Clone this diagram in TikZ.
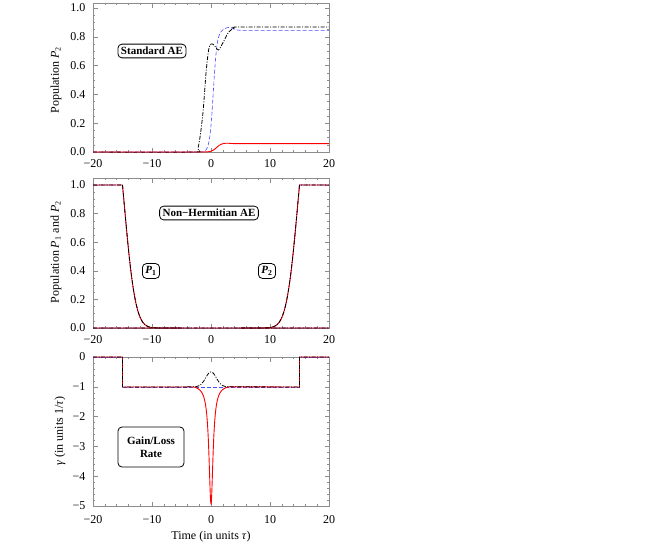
\documentclass[tikz,border=0pt]{standalone}
\usepackage{fontspec}
\setmainfont{Liberation Serif}
\begin{document}
\begin{tikzpicture}[x=1pt,y=-1pt,
  frame/.style={draw=black!45,line width=0.6pt},
  tick/.style={draw=black!45,line width=0.5pt},
  lab/.style={font=\fontsize{12}{12}\selectfont},
  tag/.style={draw,rounded corners=4pt,line width=0.8pt,font=\bfseries\fontsize{11}{13}\selectfont,align=center,inner sep=3pt},
  redc/.style={red,line width=0.9pt},
  bluec/.style={blue!70,dashed,dash pattern=on 4pt off 2pt,line width=0.6pt},
  blackc/.style={black,dash pattern=on 4pt off 1.5pt on 1pt off 1.5pt,line width=0.8pt}]
\useasboundingbox (0,0) rectangle (664,547);
\def\X#1{211+5.9*(#1)}
% ---------- frames and x ticks
\foreach \top/\bot/\ly in {3/152/164, 178/328/340, 357/506/520}{
  \draw[frame] (93,\top) rectangle (329,\bot);
  \foreach \t in {-20,-18,...,20}{
    \pgfmathsetmacro{\xx}{211+5.9*\t}
    \draw[tick] (\xx,\bot) -- ++(0,-2) (\xx,\top) -- ++(0,2);}
  \foreach \t/\s in {-20/−20,-10/−10,0/0,10/10,20/20}{
    \pgfmathsetmacro{\xx}{211+5.9*\t}
    \draw[tick] (\xx,\bot) -- ++(0,-4.5) (\xx,\top) -- ++(0,4.5);
    \node[lab] (xl\top\t) at (\xx,\ly) {\s};}
}
% y ticks panel 1 and 2
\foreach \z/\h in {152/144, 328/143}{
  \foreach \k in {0,...,20}{
    \pgfmathsetmacro{\yy}{\z-\h*\k*0.05}
    \draw[tick] (93,\yy) -- ++(2,0) (329,\yy) -- ++(-2,0);}
  \foreach \k/\s in {0/0.0,2/0.2,4/0.4,6/0.6,8/0.8,10/1.0}{
    \pgfmathsetmacro{\yy}{\z-\h*\k*0.1}
    \draw[tick] (93,\yy) -- ++(4.5,0) (329,\yy) -- ++(-4.5,0);
    \node[lab,anchor=east] (yl\z\k) at (89,\yy) {\s};}
}
% y ticks panel 3
\foreach \k in {0,...,25}{
  \pgfmathsetmacro{\yy}{357+29.8*\k*0.2}
  \draw[tick] (93,\yy) -- ++(2,0) (329,\yy) -- ++(-2,0);}
\foreach \k/\s in {0/0,1/−1,2/−2,3/−3,4/−4,5/−5}{
  \pgfmathsetmacro{\yy}{357+29.8*\k}
  \draw[tick] (93,\yy) -- ++(4.5,0) (329,\yy) -- ++(-4.5,0);
  \node[lab,anchor=east] (yg\k) at (89,\yy) {\s};}
% axis labels
\node[lab,rotate=90] (ya1) at (56,80) {Population \textit{P}\textsubscript{2}};
\node[lab,rotate=90] (ya2) at (56,252) {Population \textit{P}\textsubscript{1} and \textit{P}\textsubscript{2}};
\node[lab,rotate=90] (ya3) at (60,431) {\textit{γ} (in units 1/\textit{τ})};
\node[lab] (xa) at (211,537) {Time (in units \textit{τ})};
% ---------- panel 1 curves
\draw[bluec] ({\X{-20}},152) -- ({\X{-6}},152) plot[domain=-6:20,samples=140,variable=\t] ({\X{\t}},{152-144*(0.845/(1+exp(max(min(-(\t-0.4)*3.2,9),-9)))+0.02*exp(max(-((\t-3)*(\t-3)),-9)))});
\draw[blackc] plot[smooth,tension=0.5] coordinates {({\X{-20}},152) ({\X{-3.2}},152) ({\X{-2.2}},148) ({\X{-1.4}},115) ({\X{-0.8}},70) ({\X{-0.3}},47) ({\X{0.3}},44) ({\X{0.9}},48) ({\X{1.3}},50) ({\X{2}},43) ({\X{3}},32) ({\X{4}},28) ({\X{5}},27) ({\X{20}},27)};
\draw[redc] ({\X{-20}},152) -- ({\X{-6}},152) plot[domain=-6:20,samples=120,variable=\t] ({\X{\t}},{152-144*(0.058/(1+exp(max(min(-(\t-0.9)*2.5,9),-9)))+0.004*exp(max(-((\t-2.5)*(\t-2.5)),-9)))});
% ---------- panel 2 curves
\foreach \st in {bluec,redc,blackc}{
  \draw[\st] ({\X{-20}},185) -- ({\X{-15}},185)
    plot[domain=0:10,samples=60,variable=\s] ({\X{-15+\s}},{328-143*exp(max(-0.45*\s-0.14*\s*\s,-9))})
    -- ({\X{20}},328);
  \draw[\st] ({\X{-20}},328) -- ({\X{-5}},328)
    plot[domain=10:0,samples=60,variable=\s] ({\X{15-\s}},{328-143*exp(max(-0.45*\s-0.14*\s*\s,-9))})
    -- ({\X{20}},185);
}
% ---------- panel 3 curves
\draw[bluec] ({\X{-20}},357) -- ({\X{-15}},357) -- ({\X{-15}},387) -- ({\X{15}},387) -- ({\X{15}},357) -- ({\X{20}},357);
\draw[redc] ({\X{-20}},357) -- ({\X{-15}},357) -- ({\X{-15}},387) -- ({\X{-3}},387)
  plot[domain=-3:3,samples=241,variable=\t] ({\X{\t}},{357+29.8*(1+4/(1+(\t/0.42)*(\t/0.42))-4/(1+(3/0.42)*(3/0.42)))})
  -- ({\X{15}},387) -- ({\X{15}},357) -- ({\X{20}},357);
\draw[blackc] ({\X{-20}},357) -- ({\X{-15}},357) -- ({\X{-15}},387) -- ({\X{-4}},387)
  plot[domain=-4:4,samples=80,variable=\t] ({\X{\t}},{357+29.8*(1-0.5*exp(max(-\t*\t/1.6,-9)))})
  -- ({\X{15}},387) -- ({\X{15}},357) -- ({\X{20}},357);
% ---------- tags
\node[tag] (t1) at (152,51) {Standard AE};
\node[tag] (t2) at (209,213) {Non−Hermitian AE};
\node[tag] (t3) at (151,271) {\textit{P}\textsubscript{1}};
\node[tag] (t4) at (267,271) {\textit{P}\textsubscript{2}};
\node[tag,minimum width=66pt,minimum height=40pt] (t5) at (151,447) {Gain/Loss\\Rate};
\end{tikzpicture}
\end{document}
